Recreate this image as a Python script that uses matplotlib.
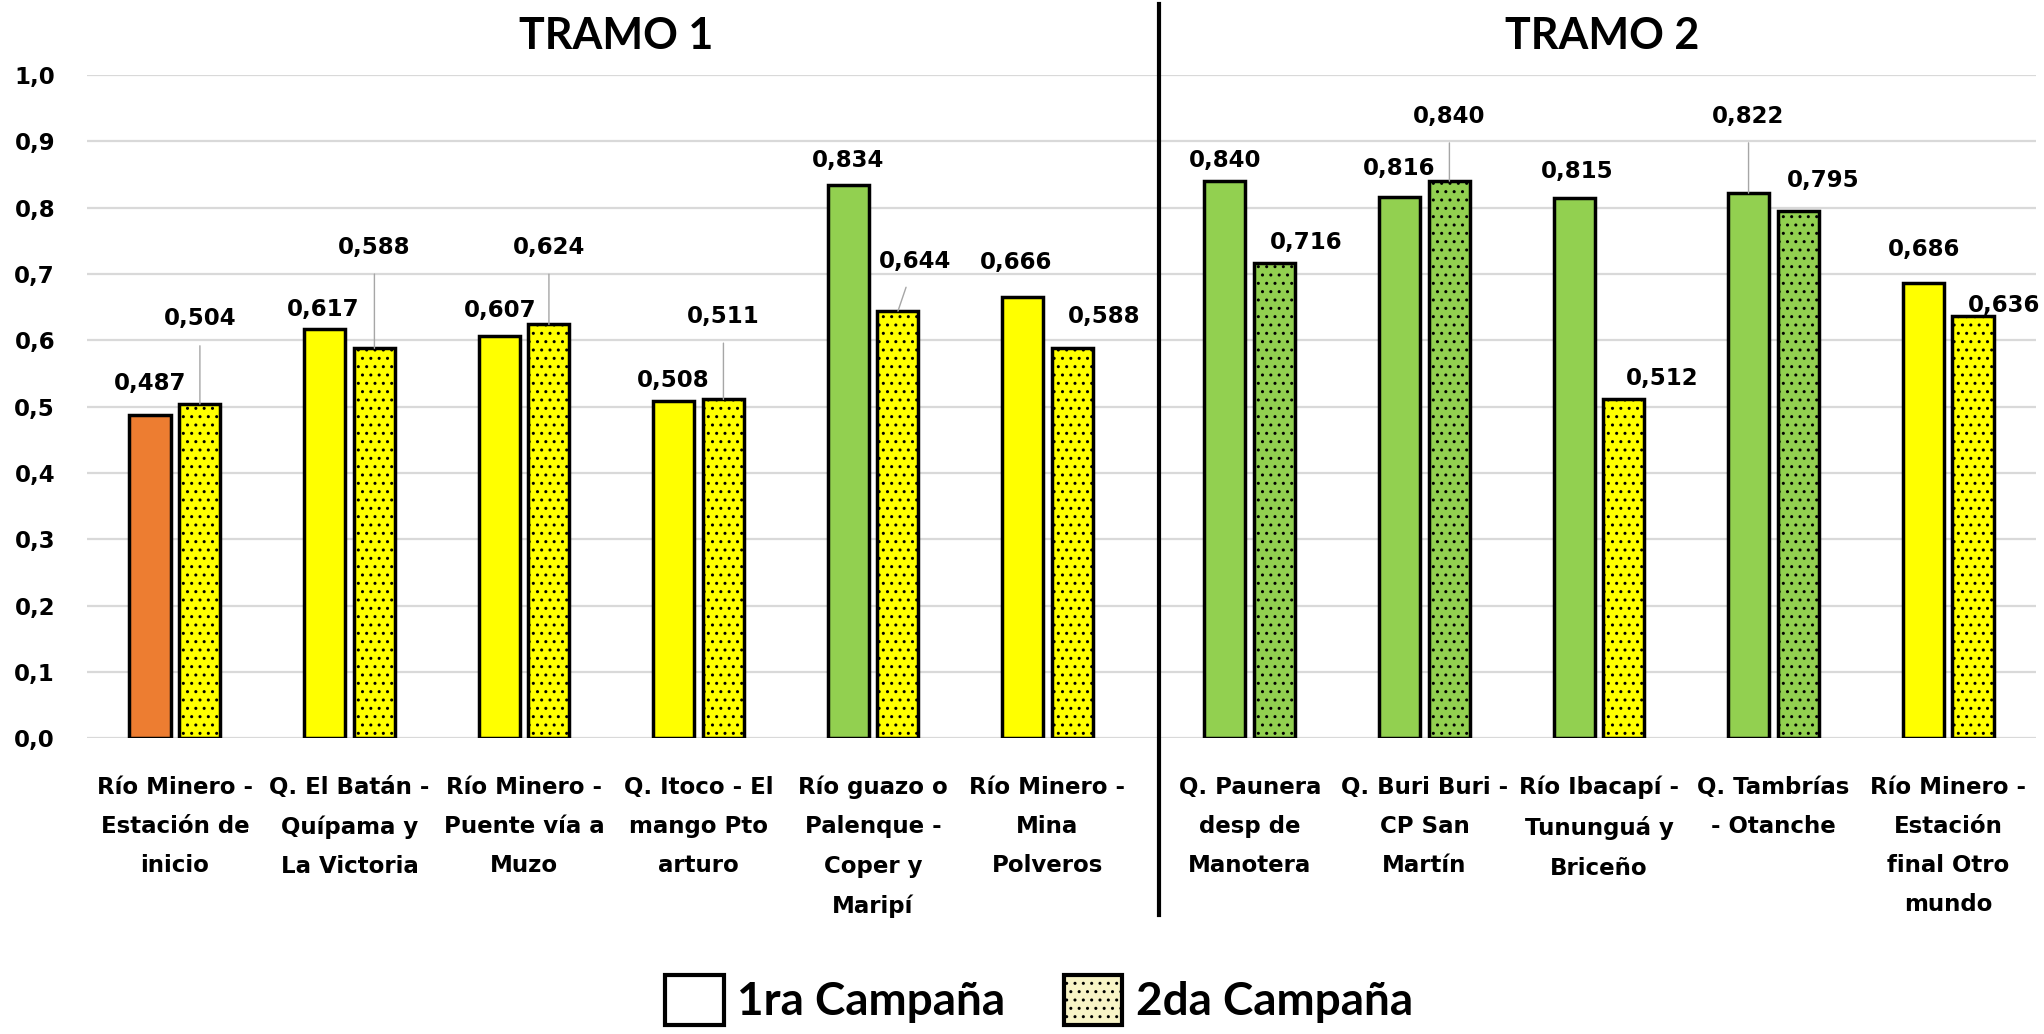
import matplotlib
matplotlib.use("Agg")
import matplotlib.pyplot as plt
from matplotlib.patches import Patch
from matplotlib.lines import Line2D

# ---------------- data ----------------
t1_categories = ["Río Minero -\nEstación de\ninicio",
                 "Q. El Batán -\nQuípama y\nLa Victoria",
                 "Río Minero -\nPuente vía a\nMuzo",
                 "Q. Itoco - El\nmango Pto\narturo",
                 "Río guazo o\nPalenque -\nCoper y\nMaripí",
                 "Río Minero -\nMina\nPolveros"]
t1_camp1 = [0.487, 0.617, 0.607, 0.508, 0.834, 0.666]
t1_camp2 = [0.504, 0.588, 0.624, 0.511, 0.644, 0.588]

t2_categories = ["Q. Paunera\ndesp de\nManotera",
                 "Q. Buri Buri -\nCP San\nMartín",
                 "Río Ibacapí -\nTununguá y\nBriceño",
                 "Q. Tambrías\n- Otanche",
                 "Río Minero -\nEstación\nfinal Otro\nmundo"]
t2_camp1 = [0.840, 0.816, 0.815, 0.822, 0.686]
t2_camp2 = [0.716, 0.840, 0.512, 0.795, 0.636]

series_names = ["1ra Campaña", "2da Campaña"]
section_titles = ["TRAMO 1", "TRAMO 2"]
yticks = [0.0, 0.1, 0.2, 0.3, 0.4, 0.5, 0.6, 0.7, 0.8, 0.9, 1.0]
ytick_labels = ["0,0", "0,1", "0,2", "0,3", "0,4", "0,5", "0,6", "0,7", "0,8", "0,9", "1,0"]

# ---------------- style ----------------
ORANGE = "#ED7D31"
YELLOW = "#FFFF00"
GREEN = "#92D050"
t1_colors1 = [ORANGE, YELLOW, YELLOW, YELLOW, GREEN, YELLOW]
t1_colors2 = [YELLOW, YELLOW, YELLOW, YELLOW, YELLOW, YELLOW]
t2_colors1 = [GREEN, GREEN, GREEN, GREEN, YELLOW]
t2_colors2 = [GREEN, GREEN, YELLOW, GREEN, YELLOW]

# label offsets in pixels (dx, dy) relative to bar top, and leader flag
t1_off1 = [(0, 32, False), (-1, 20, False), (1, 25, False), (0, 21, False), (0, 25, False), (-6, 34, False)]
t1_off2 = [(0, 85, True), (0, 101, True), (0, 77, True), (0, 83, True), (17, 50, True), (32, 32, False)]
t2_off1 = [(0, 21, False), (0, 29, False), (3, 26, False), (0, 77, True), (1, 34, False)]
t2_off2 = [(31, 21, False), (0, 65, True), (38, 20, False), (25, 30, False), (31, 11, False)]

FONT = ["Lato", "DejaVu Sans"]
SMALL = ["DejaVu Sans"]
plt.rcParams["font.family"] = FONT
plt.rcParams["font.weight"] = "bold"
WT = "bold"

W, H = 2044, 1034
fig = plt.figure(figsize=(W / 100, H / 100), dpi=100)

y0px, y1px = 738.3, 75.0
bottom = 1 - y0px / H
height = (y0px - y1px) / H
sep_x = 1159
ax1 = fig.add_axes([87 / W, bottom, (sep_x - 87) / W, height])
ax2 = fig.add_axes([sep_x / W, bottom, (2036 - sep_x) / W, height])

bw = 0.235
off = 0.143
FS = 16.5


def fmt(v):
    return f"{v:.3f}".replace(".", ",")


def draw(ax, cats, v1, v2, c1, c2, o1, o2, xlim):
    x = list(range(len(cats)))
    b1 = ax.bar([i - off for i in x], v1, width=bw, color=c1, edgecolor="black",
                linewidth=2.5, zorder=3)
    b2 = ax.bar([i + off for i in x], v2, width=bw, color=c2, edgecolor="black",
                linewidth=2.5, hatch="..", zorder=3)
    for bars, vals, offs in ((b1, v1, o1), (b2, v2, o2)):
        for rect, v, (dx, dy, lead) in zip(bars, vals, offs):
            xc = rect.get_x() + rect.get_width() / 2
            kw = {}
            if lead:
                kw["arrowprops"] = dict(arrowstyle="-", color="#A6A6A6", lw=1.0,
                                        shrinkA=9, shrinkB=0)
            ax.annotate(fmt(v), xy=(xc, v), xytext=(dx, dy), textcoords="offset pixels",
                        ha="center", va="center", fontsize=FS, fontweight=WT,
                        family=SMALL, annotation_clip=False, zorder=5, **kw)
    ax.set_xlim(*xlim)
    ax.set_ylim(0, 1.0)
    ax.set_yticks(yticks)
    ax.set_xticks(x)
    ax.set_xticklabels(cats, fontsize=FS, fontweight=WT, family=SMALL,
                       linespacing=1.9, va="top")
    ax.tick_params(axis="x", length=0, pad=27)
    ax.tick_params(axis="y", length=0, pad=23)
    ax.grid(axis="y", color="#D9D9D9", linewidth=1.6, zorder=0)
    ax.set_axisbelow(True)
    for s in ax.spines.values():
        s.set_visible(False)


draw(ax1, t1_categories, t1_camp1, t1_camp2, t1_colors1, t1_colors2, t1_off1, t1_off2,
     (-0.504, 5.639))
draw(ax2, t2_categories, t2_camp1, t2_camp2, t2_colors1, t2_colors2, t2_off1, t2_off2,
     (-0.521, 4.504))

ax1.set_yticklabels(ytick_labels, fontsize=FS, fontweight=WT, family=SMALL)
ax2.set_yticklabels([])

fig.text(616 / W, 1 - 36 / H, section_titles[0], ha="center", va="center",
         fontsize=31, fontweight="bold")
fig.text(1602 / W, 1 - 36 / H, section_titles[1], ha="center", va="center",
         fontsize=31, fontweight="bold")

fig.add_artist(Line2D([sep_x / W, sep_x / W], [1 - 915 / H, 1 - 4 / H],
                      transform=fig.transFigure, color="black", linewidth=3))

handles = [Patch(facecolor="white", edgecolor="black", linewidth=3),
           Patch(facecolor="#F8F4C6", edgecolor="black", linewidth=3, hatch="..")]
fig.legend(handles, series_names, loc="center", bbox_to_anchor=(1039 / W, 1 - 1000 / H),
           ncol=2, frameon=False, prop={"family": FONT, "weight": "bold", "size": 33},
           handlelength=1.27, handleheight=1.27, handletextpad=0.3, columnspacing=1.27)

fig.savefig("out.png", dpi=100)
